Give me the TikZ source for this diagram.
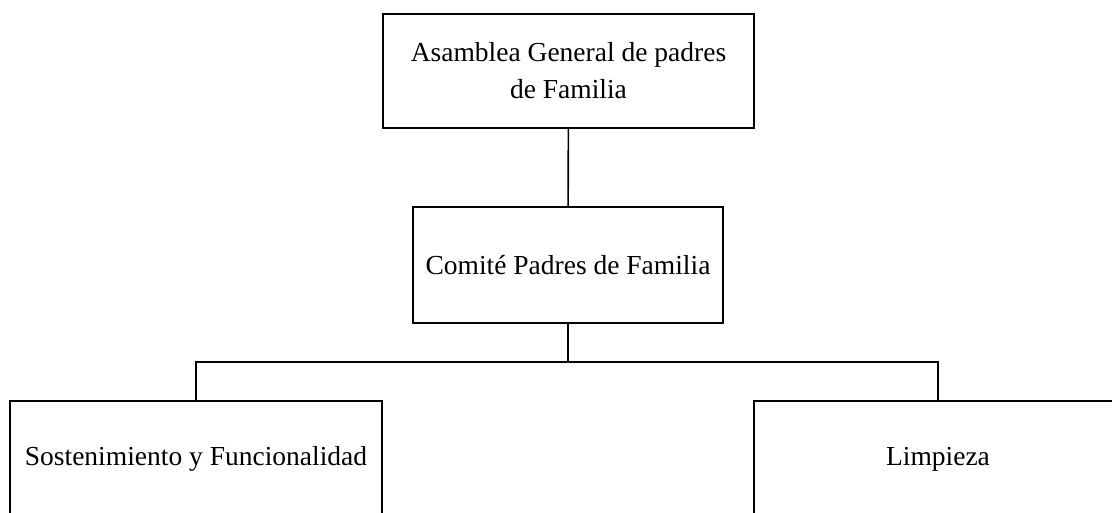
\documentclass[tikz,border=0pt]{standalone}
\usepackage{fontspec}
\setmainfont{Liberation Serif}
\usepackage{tikz}

\begin{document}
\begin{tikzpicture}[x=1pt,y=-1pt,line width=1.6pt,
  caja/.style={rectangle,draw,inner sep=0pt,align=center,
    font=\fontsize{27.5}{37}\selectfont}]
\clip (0,0) rectangle (1112,512);
\node (asamblea) at (568.5,71) [caja,minimum width=371,minimum height=114] {Asamblea General de padres\\de Familia};
\node (comite) at (568,265) [caja,minimum width=310,minimum height=116] {Comité Padres de Familia};
\node (sosten) at (196,459) [caja,minimum width=372,minimum height=116] {Sostenimiento y Funcionalidad};
\node (limpieza) at (938,459) [caja,minimum width=368,minimum height=116] {Limpieza};
\coordinate (rama) at (568,362);
\draw (asamblea) -- (comite);
\draw (comite) -- (rama);
\draw (rama) -| (sosten);
\draw (rama) -| (limpieza);
\end{tikzpicture}
\end{document}
